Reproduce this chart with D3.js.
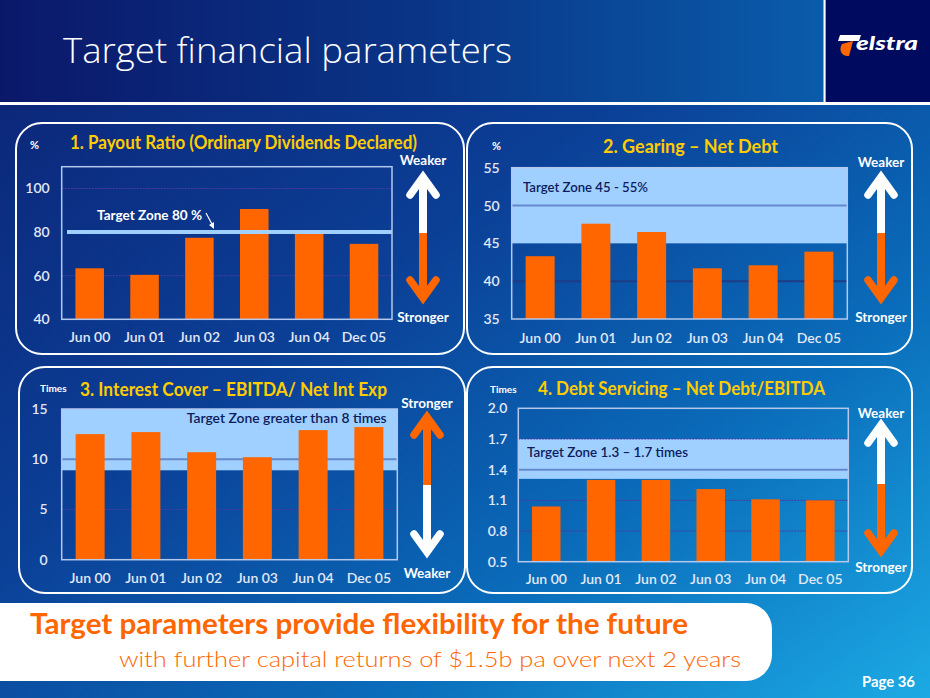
<!DOCTYPE html>
<html><head><meta charset="utf-8">
<script src="https://cdn.jsdelivr.net/npm/d3@7"></script>
<style>html,body{margin:0;padding:0;background:#0c2a80;} svg{display:block}</style>
</head><body><svg id="c" width="930" height="698"></svg>
<script>
// ---------- DATA ----------
const categories = ["Jun 00","Jun 01","Jun 02","Jun 03","Jun 04","Dec 05"];
const payoutRatio   = [63.4, 60.4, 77.4, 90.6, 79.8, 74.6];
const gearing       = [43.3, 47.6, 46.5, 41.7, 42.1, 43.9];
const interestCover = [12.5, 12.7, 10.7, 10.2, 12.9, 13.2];
const debtServicing = [1.04, 1.30, 1.30, 1.21, 1.11, 1.10];
const payoutTicks    = [40, 60, 80, 100];
const gearingTicks   = [35, 40, 45, 50, 55];
const coverTicks     = [0, 5, 10, 15];
const servicingTicks = [0.5, 0.8, 1.1, 1.4, 1.7, 2.0];
const payoutDomain = [40, 110], gearingDomain = [35, 55], coverDomain = [0, 15], servicingDomain = [0.5, 2.0];
const payoutTarget = 80;
const gearingBand = [45, 55];
const coverBand = [8.9, 15];
const servicingBand = [1.31, 1.7];

// ---------- SETUP ----------
const svg = d3.select("#c");
const FONT = "Lato, 'Open Sans', 'DejaVu Sans', sans-serif";
const defs = svg.append("defs");
const bg = defs.append("linearGradient").attr("id","bg").attr("x1",0).attr("y1",0).attr("x2",1).attr("y2",1);
[[0,"#0c2274"],[0.4,"#0b3f96"],[0.7,"#0a6cba"],[1,"#1caae4"]].forEach(s=>bg.append("stop").attr("offset",s[0]).attr("stop-color",s[1]));
const hd = defs.append("linearGradient").attr("id","hd").attr("x1",0).attr("y1",0).attr("x2",1).attr("y2",0);
[[0,"#0b186a"],[0.5,"#0a3486"],[1,"#0a5cab"]].forEach(s=>hd.append("stop").attr("offset",s[0]).attr("stop-color",s[1]));

svg.append("rect").attr("width",930).attr("height",698).attr("fill","url(#bg)");
// header
svg.append("rect").attr("width",826).attr("height",102).attr("fill","url(#hd)");
svg.append("rect").attr("x",826).attr("width",104).attr("height",102).attr("fill","#000a5e");
svg.append("rect").attr("x",823.5).attr("width",2).attr("height",102).attr("fill","#ffffff");
svg.append("rect").attr("y",102).attr("width",930).attr("height",3).attr("fill","#ffffff");
svg.append("text").attr("x",63).attr("y",63).attr("font-family","'Open Sans', Lato, sans-serif").attr("font-weight",300)
  .attr("font-size",35).attr("fill","#ffffff").attr("textLength",449).attr("lengthAdjust","spacingAndGlyphs")
  .text("Target financial parameters");
// logo
svg.append("path").attr("d","M842,44 C838,50 842,57 849,56 L853,41 Z").attr("fill","#ff6600");
svg.append("path").attr("d","M840,35 L861,35 L859,41 L838,41 Z").attr("fill","#ffffff");
svg.append("text").attr("x",856).attr("y",50).attr("font-family",FONT).attr("font-weight",900).attr("font-style","italic")
  .attr("font-size",19).attr("fill","#ffffff").attr("textLength",62).attr("lengthAdjust","spacingAndGlyphs").text("elstra");

// panels frames
[[16,123,448,231],[467,123,445,231],[19,367,446,226],[467,367,445,226]].forEach(p=>{
  svg.append("rect").attr("x",p[0]).attr("y",p[1]).attr("width",p[2]).attr("height",p[3]).attr("rx",26)
    .attr("fill","none").attr("stroke","#ffffff").attr("stroke-width",2);
});

function drawPanel(cfg){
  const g = svg.append("g");
  const x = d3.scaleBand().domain(categories).range([cfg.x0,cfg.x1]).paddingInner(0.48).paddingOuter(0.25);
  const y = d3.scaleLinear().domain(cfg.domain).range([cfg.y1,cfg.y0]);
  if(cfg.band){
    g.append("rect").attr("x",cfg.x0).attr("width",cfg.x1-cfg.x0).attr("y",y(cfg.band[1]))
      .attr("height",y(cfg.band[0])-y(cfg.band[1])).attr("fill","#9fd0ff");
  }
  g.selectAll("line.grid").data(cfg.grid).join("line").attr("class","grid")
    .attr("x1",cfg.x0).attr("x2",cfg.x1).attr("y1",d=>y(d.v)).attr("y2",d=>y(d.v))
    .attr("stroke",d=>d.c).attr("stroke-width",d=>d.w).attr("stroke-dasharray",d=>d.dash||null);
  g.selectAll("rect.bar").data(cfg.values).join("rect").attr("class","bar")
    .attr("x",(d,i)=>x(categories[i])).attr("width",x.bandwidth())
    .attr("y",d=>y(d)).attr("height",d=>y(cfg.domain[0])-y(d)).attr("fill","#ff6600");
  g.append("rect").attr("x",cfg.x0).attr("y",cfg.y0).attr("width",cfg.x1-cfg.x0).attr("height",cfg.y1-cfg.y0)
    .attr("fill","none").attr("stroke","#b4c8ee").attr("stroke-width",1.5);
  const ya = g.append("g").attr("transform",`translate(${cfg.x0},0)`)
    .call(d3.axisLeft(y).tickValues(cfg.ticks).tickSize(0).tickPadding(cfg.tp).tickFormat(cfg.fmt));
  ya.select(".domain").remove();
  ya.selectAll("text").attr("font-family",FONT).attr("font-weight",600).attr("font-size",14).attr("fill","#e2e8f6");
  const xa = g.append("g").attr("transform",`translate(0,${cfg.y1})`).call(d3.axisBottom(x).tickSize(0));
  xa.select(".domain").remove();
  xa.selectAll("text").attr("y",cfg.xo).attr("dy",0).attr("font-family",FONT).attr("font-weight",600)
    .attr("font-size",14).attr("fill","#e2e8f6");
  return {x,y,g};
}

function arrow(cx, yTop, ySplit, yBot, topColor, botColor){
  const g = svg.append("g");
  g.append("line").attr("x1",cx).attr("x2",cx).attr("y1",yTop+4).attr("y2",ySplit).attr("stroke",topColor).attr("stroke-width",8);
  g.append("line").attr("x1",cx).attr("x2",cx).attr("y1",ySplit).attr("y2",yBot-4).attr("stroke",botColor).attr("stroke-width",8);
  g.append("path").attr("d",`M${cx-13},${yTop+22} L${cx},${yTop+4} L${cx+13},${yTop+22}`)
    .attr("fill","none").attr("stroke",topColor).attr("stroke-width",7.5).attr("stroke-linecap","round").attr("stroke-linejoin","miter");
  g.append("path").attr("d",`M${cx-13},${yBot-22} L${cx},${yBot-4} L${cx+13},${yBot-22}`)
    .attr("fill","none").attr("stroke",botColor).attr("stroke-width",7.5).attr("stroke-linecap","round").attr("stroke-linejoin","miter");
}
function label(x,y,t,opt={}){
  return svg.append("text").attr("x",x).attr("y",y).attr("font-family",FONT)
    .attr("font-weight",opt.w||700).attr("font-size",opt.s||13.5).attr("fill",opt.c||"#ffffff")
    .attr("text-anchor",opt.a||"start").attr("textLength",opt.tl||null).attr("lengthAdjust",opt.tl?"spacingAndGlyphs":null).text(t);
}
const dotted = "#4a3aa0", midLine = "#6688cc", darkLine = "#1d3d86";

// Panel 1
const p1 = drawPanel({values:payoutRatio, domain:payoutDomain, ticks:payoutTicks, x0:61.7, x1:392, y0:166.7, y1:319.3,
  tp:12, xo:23, fmt:d3.format("d"),
  grid:[{v:100,c:dotted,w:1,dash:"2,1"},{v:60,c:dotted,w:1,dash:"2,1"}]});
p1.g.append("line").attr("x1",67).attr("x2",392).attr("y1",p1.y(payoutTarget)).attr("y2",p1.y(payoutTarget))
  .attr("stroke","#9fd0ff").attr("stroke-width",4);
label(97,220,"Target Zone 80 %",{s:13,tl:105});
svg.append("path").attr("d","M206,213 L213,226").attr("stroke","#ffffff").attr("stroke-width",1.2);
svg.append("path").attr("d","M209,225 L214,229 L214,222 Z").attr("fill","#ffffff");
label(30,149,"%",{s:11});
label(70,148.5,"1. Payout Ratio (Ordinary Dividends Declared)",{s:18.5,c:"#ffcc00",tl:347});
label(423,165,"Weaker",{a:"middle"});
label(423,321.5,"Stronger",{a:"middle"});
arrow(423,173,233,302,"#ffffff","#ff6600");

// Panel 2
const p2 = drawPanel({values:gearing, domain:gearingDomain, ticks:gearingTicks, x0:511.7, x1:847.3, y0:167.7, y1:319,
  tp:12, xo:23.5, fmt:d3.format("d"), band:gearingBand,
  grid:[{v:50,c:midLine,w:2},{v:40,c:darkLine,w:2}]});
label(523,192,"Target Zone 45 - 55%",{s:14,w:600,c:"#0d1b5e",tl:125});
label(492,150,"%",{s:11});
label(603,152.5,"2. Gearing – Net Debt",{s:18.5,c:"#ffcc00",tl:175});
label(881,166.5,"Weaker",{a:"middle"});
label(881,322,"Stronger",{a:"middle"});
arrow(881,173,233,302,"#ffffff","#ff6600");

// Panel 3
const p3 = drawPanel({values:interestCover, domain:coverDomain, ticks:coverTicks, x0:61.7, x1:397.3, y0:409, y1:559.7,
  tp:14, xo:23.5, fmt:d3.format("d"), band:coverBand,
  grid:[{v:10,c:midLine,w:2},{v:5,c:dotted,w:1,dash:"2,1"}]});
label(386.7,423,"Target Zone greater than 8 times",{s:14,w:600,c:"#0d1b5e",a:"end",tl:200});
label(40,392,"Times",{s:10});
label(80,395.5,"3. Interest Cover – EBITDA/ Net Int Exp",{s:18.5,c:"#ffcc00",tl:307});
label(427,407.5,"Stronger",{a:"middle"});
label(427,578,"Weaker",{a:"middle"});
arrow(427,413,485,556,"#ff6600","#ffffff");

// Panel 4
const p4 = drawPanel({values:debtServicing, domain:servicingDomain, ticks:servicingTicks, x0:518.3, x1:848.3, y0:408.3, y1:561.7,
  tp:11, xo:22, fmt:d3.format(".1f"), band:servicingBand,
  grid:[{v:1.7,c:dotted,w:1,dash:"2,1"},{v:1.4,c:midLine,w:2},{v:1.1,c:dotted,w:1,dash:"2,1"},{v:0.8,c:dotted,w:1,dash:"2,1"}]});
label(527,457,"Target Zone 1.3 – 1.7 times",{s:14,w:600,c:"#0d1b5e",tl:161});
label(490,393,"Times",{s:10});
label(538,394.5,"4. Debt Servicing – Net Debt/EBITDA",{s:18.5,c:"#ffcc00",tl:287});
label(881,417.5,"Weaker",{a:"middle"});
label(881,571.5,"Stronger",{a:"middle"});
arrow(881,421,484,555,"#ffffff","#ff6600");

// Bottom banner
svg.append("rect").attr("x",-40).attr("y",603).attr("width",812).attr("height",78).attr("rx",26).attr("fill","#ffffff");
label(30,634,"Target parameters provide flexibility for the future",{s:28,w:700,c:"#ff6600",tl:658});
label(119,667,"with further capital returns of $1.5b pa over next 2 years",{s:22,w:300,c:"#ff6600",tl:622});
label(862,687,"Page 36",{s:15,w:700,tl:53});
</script></body></html>
